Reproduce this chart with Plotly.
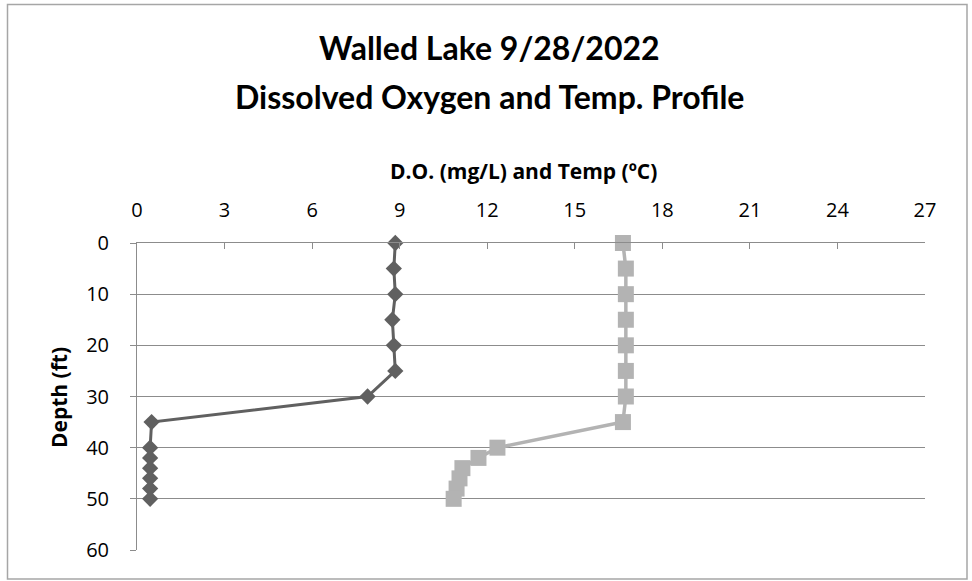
import plotly.graph_objects as go

depth_ft = [0, 5, 10, 15, 20, 25, 30, 35, 40, 42, 44, 46, 48, 50]
do_mgL = [8.85, 8.8, 8.85, 8.75, 8.8, 8.85, 7.9, 0.5, 0.45, 0.45, 0.45, 0.45, 0.45, 0.45]
temp_C = [16.65, 16.75, 16.75, 16.75, 16.75, 16.75, 16.75, 16.65, 12.35, 11.7, 11.15, 11.05, 10.95, 10.85]
x_ticks = [0, 3, 6, 9, 12, 15, 18, 21, 24, 27]
y_ticks = [0, 10, 20, 30, 40, 50, 60]

TFONT = "Lato, 'Open Sans', sans-serif"
FONT = "'Open Sans', Lato, sans-serif"
W, H = 972, 581
L, R, T, B = 137, 47, 243, 31
PW, PH = W - L - R, H - T - B

def px(x):
    return (x - L) / PW

def py(y):
    return (H - B - y) / PH

fig = go.Figure()
fig.add_trace(go.Scatter(
    x=do_mgL, y=depth_ft, mode="lines+markers", name="D.O.",
    line=dict(color="#606060", width=3),
    marker=dict(symbol="diamond", size=12.5, color="#606060"),
    cliponaxis=False,
))
fig.add_trace(go.Scatter(
    x=temp_C, y=depth_ft, mode="lines+markers", name="Temp",
    line=dict(color="#b3b3b3", width=3.5),
    marker=dict(symbol="square", size=16, color="#b3b3b3"),
    cliponaxis=False,
))

fig.update_layout(
    width=W, height=H,
    margin=dict(l=L, r=R, t=T, b=B, pad=0),
    paper_bgcolor="white", plot_bgcolor="white",
    showlegend=False,
    font=dict(family=FONT, color="black"),
    xaxis=dict(
        side="top", range=[0, 27], tickvals=x_ticks,
        ticks="inside", ticklen=6, tickcolor="#8c8c8c", tickwidth=1,
        showline=True, linecolor="#8c8c8c", linewidth=1,
        showgrid=False, zeroline=False,
        tickfont=dict(size=20, family=FONT, color="black"),
        ticklabelstandoff=17,
    ),
    yaxis=dict(
        range=[60, 0], tickvals=y_ticks,
        ticks="outside", ticklen=6, tickcolor="#8c8c8c", tickwidth=1,
        showline=True, linecolor="#8c8c8c", linewidth=1,
        showgrid=True, gridcolor="#8c8c8c", gridwidth=1,
        zeroline=False,
        tickfont=dict(size=20, family=FONT, color="black"),
        ticklabelstandoff=17,
    ),
    shapes=[dict(
        type="rect", xref="paper", yref="paper",
        x0=px(7.5), x1=px(967), y0=py(579), y1=py(4.5),
        line=dict(color="#a6a6a6", width=1.5), fillcolor="rgba(0,0,0,0)",
        layer="below",
    )],
    annotations=[
        dict(text="<b>Walled Lake 9/28/2022</b>", xref="paper", yref="paper",
             x=px(489), y=py(48), showarrow=False, xanchor="center", yanchor="middle",
             font=dict(size=32, family=TFONT)),
        dict(text="<b>Dissolved Oxygen and Temp. Profile</b>", xref="paper", yref="paper",
             x=px(489), y=py(96), showarrow=False, xanchor="center", yanchor="middle",
             font=dict(size=32, family=TFONT)),
        dict(text="<b>D.O. (mg/L) and Temp (ºC)</b>", xref="paper", yref="paper",
             x=px(523), y=py(171), showarrow=False, xanchor="center", yanchor="middle",
             font=dict(size=21, family=FONT)),
        dict(text="<b>Depth (ft)</b>", xref="paper", yref="paper",
             x=px(59), y=py(398), showarrow=False, xanchor="center", yanchor="middle",
             textangle=-90, font=dict(size=21, family=FONT)),
    ],
)

fig.write_html(
    "out.html",
    config={"displayModeBar": False},
    post_script="document.body.style.margin='0';document.body.style.overflow='hidden';",
)
